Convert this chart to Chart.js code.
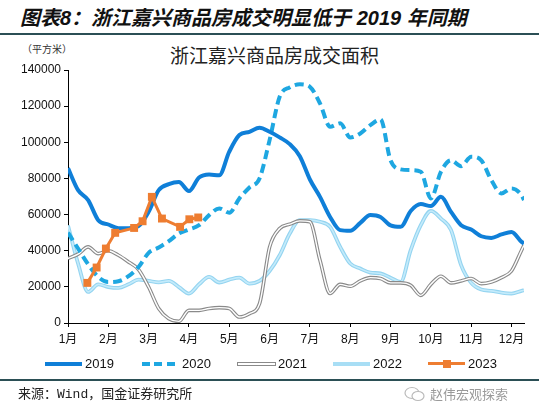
<!DOCTYPE html>
<html>
<head>
<meta charset="utf-8">
<script src="https://cdn.jsdelivr.net/npm/chart.js@4.4.0/dist/chart.umd.min.js"></script>
<style>
  body { margin:0; background:#fff; width:539px; height:415px; overflow:hidden; position:relative;
         font-family:'Liberation Sans', Arial, 'Noto Sans CJK SC', sans-serif; }
  .abs { position:absolute; white-space:nowrap; }
  #title { left:20px; top:8px; font:italic 700 20px/20px 'Liberation Sans','Noto Sans CJK SC'; color:#111; }
  .rule { left:0; width:539px; height:2px; background:#2b4f55; }
  #unit { left:22px; top:44px; font:10px/10px 'Noto Sans CJK SC'; color:#333; }
  #ctitle { left:170px; top:45px; font:19px/19px 'Noto Sans CJK SC'; color:#222; }
  #src { left:18px; top:387px; font:13px/15px 'Liberation Mono','Noto Sans CJK SC'; color:#222; }
  #wm { left:430px; top:386px; font:13px/15px 'Noto Sans CJK SC'; color:#9a9a9a; }
  .lg { top:356px; font:13px/15px 'Liberation Sans', Arial; color:#111; }
  .sw { top:362px; width:37px; height:3.5px; }
  canvas { position:absolute; left:0; top:0; }
</style>
</head>
<body>
<div id="title" class="abs">图表8：浙江嘉兴商品房成交明显低于 2019 年同期</div>
<div class="abs rule" style="top:33px"></div>
<div id="unit" class="abs">（平方米）</div>
<div id="ctitle" class="abs">浙江嘉兴商品房成交面积</div>
<canvas id="myChart" width="539" height="415"></canvas>

<div class="abs sw" style="left:45px;background:#0f7fd8"></div>
<div class="abs lg" style="left:85px">2019</div>
<div class="abs sw" style="left:142px;width:33px;background:repeating-linear-gradient(90deg,#1ea7e1 0 8px,transparent 8px 12.5px)"></div>
<div class="abs lg" style="left:182px">2020</div>
<div class="abs sw" style="left:237px;height:2px;top:362px;border:1px solid #8a8a8a;background:#fff"></div>
<div class="abs lg" style="left:278px">2021</div>
<div class="abs sw" style="left:333px;background:#a8def5"></div>
<div class="abs lg" style="left:373px">2022</div>
<div class="abs sw" style="left:428px;height:3px;background:#ee7d31"></div>
<div class="abs" style="left:443px;top:359.5px;width:8px;height:8px;background:#ee7d31"></div>
<div class="abs lg" style="left:468px">2023</div>

<div class="abs rule" style="top:379px"></div>
<div id="src" class="abs">来源：Wind，国金证券研究所</div>
<svg class="abs" style="left:404px;top:386px" width="22" height="16">
  <ellipse cx="8" cy="7" rx="7" ry="5.5" fill="none" stroke="#bbb" stroke-width="1.2"/>
  <ellipse cx="14" cy="10" rx="6" ry="4.5" fill="#fff" stroke="#bbb" stroke-width="1.2"/>
</svg>
<div id="wm" class="abs">赵伟宏观探索</div>

<script>
// x positions in months (1 = 1月)
const months = [1,1.25,1.5,1.75,2,2.25,2.5,2.75,3,3.25,3.5,3.75,4,4.25,4.5,4.75,5,5.25,5.5,5.75,
  6,6.25,6.5,6.75,7,7.25,7.5,7.75,8,8.25,8.5,8.75,9,9.25,9.5,9.75,10,10.25,10.5,10.75,
  11,11.25,11.5,11.75,12,12.25,12.31];

const s2019 = [85700,73500,68000,56900,54500,52500,52500,53600,61500,73500,76800,78000,73000,80500,82200,81700,
  94800,104000,105800,108000,105800,102700,99000,92300,79400,69800,58700,51400,51000,55400,59700,58700,
  54000,53200,62000,65800,64700,69800,61500,54100,51700,48000,47100,49000,50400,44900,44000];

const s2020 = [50000,41200,32500,25500,22700,23100,25900,31000,38800,41800,45300,49500,51700,54100,59700,63400,
  61000,68900,75000,80000,101200,125200,130400,132100,130700,121500,108600,110500,102700,104900,109500,112700,
  90000,85000,84600,83700,68900,83700,90000,86800,92000,90000,79000,71700,74500,70700,68000];

const s2021 = [35700,38100,42100,38400,40000,37500,33800,29600,19900,8000,2400,900,7000,7000,8000,8500,
  8000,3300,5200,10700,42000,52300,54700,56500,56000,34700,16300,21400,20300,23300,25100,24600,
  22200,22200,20900,15300,21400,25900,22200,23300,24600,21800,22700,25100,28800,40300,43000];

const s2022 = [54000,32900,17200,21400,19900,19400,21400,24000,23300,22500,23300,19900,16300,21400,25500,22400,
  24000,25100,21800,23300,28800,37500,49500,56900,56900,56000,53200,42100,32900,30100,27900,27400,
  25100,22700,40300,54100,62000,57800,51400,32000,22200,18500,17800,16800,16300,17800,18100];

const m2023 = [1.48,1.71,1.94,2.17,2.64,2.85,3.08,3.33,3.78,4.01,4.23];
const s2023 = [22200,30700,41200,49900,52600,56300,69800,57800,53200,57400,58400];

const yTicks = [0,20000,40000,60000,80000,100000,120000,140000];

function pts(xs, ys){
  return ys.map((v,i) => ({x: xs[i], y: v}));
}

function line(label, data, color, width, order, extra){
  return Object.assign({
    label: label,
    data: data,
    borderColor: color,
    borderWidth: width,
    pointRadius: 0,
    fill: false,
    cubicInterpolationMode: 'monotone',
    order: order
  }, extra || {});
}

const axisFont = {family: "'Liberation Sans', Arial, 'Noto Sans CJK SC'", size: 12};

var ctx = document.getElementById('myChart');
var myChart = new Chart(ctx, {
  type: 'line',
  data: {
    datasets: [
      line('2023', pts(m2023, s2023), '#ee7d31', 3, 0, {
        cubicInterpolationMode: 'default', tension: 0,
        pointStyle: 'rect', pointRadius: 5.6, pointBackgroundColor: '#ee7d31', pointBorderWidth: 0
      }),
      line('2019', pts(months, s2019), '#0f7fd8', 4, 1),
      line('2020', pts(months, s2020), '#1ea7e1', 4, 2, {borderDash: [9, 5]}),
      line('2021', pts(months, s2021), '#ffffff', 1.4, 3),
      line('2021', pts(months, s2021), '#8a8a8a', 3.6, 4),
      line('2022', pts(months, s2022), '#c4ebfb', 1.6, 5),
      line('2022', pts(months, s2022), '#94d4f0', 3.8, 6)
    ]
  },
  options: {
    responsive: false,
    animation: false,
    events: [],
    layout: {padding: {top: 70, right: 15, bottom: 0, left: 0}},
    plugins: {legend: {display: false}, title: {display: false}, tooltip: {enabled: false}},
    scales: {
      x: {
        type: 'linear',
        min: 1,
        max: 12.31,
        afterFit: (s) => { s.height = 92; },
        border: {display: true, color: '#000', width: 1},
        grid: {drawOnChartArea: false, drawTicks: true, tickLength: 4, color: '#000'},
        ticks: {
          stepSize: 1, includeBounds: false, autoSkip: false, maxRotation: 0,
          padding: 5, color: '#111', font: axisFont,
          callback: (v) => Number.isInteger(v) ? v + '月' : ''
        }
      },
      y: {
        min: 0,
        max: 140000,
        afterFit: (s) => { s.width = 68; },
        afterBuildTicks: (s) => { s.ticks = yTicks.map(v => ({value: v})); },
        border: {display: true, color: '#000', width: 1},
        grid: {drawOnChartArea: false, drawTicks: true, tickLength: 4, color: '#000'},
        ticks: {padding: 3, color: '#111', font: axisFont, callback: (v) => String(v)}
      }
    }
  }
});
</script>
</body>
</html>
